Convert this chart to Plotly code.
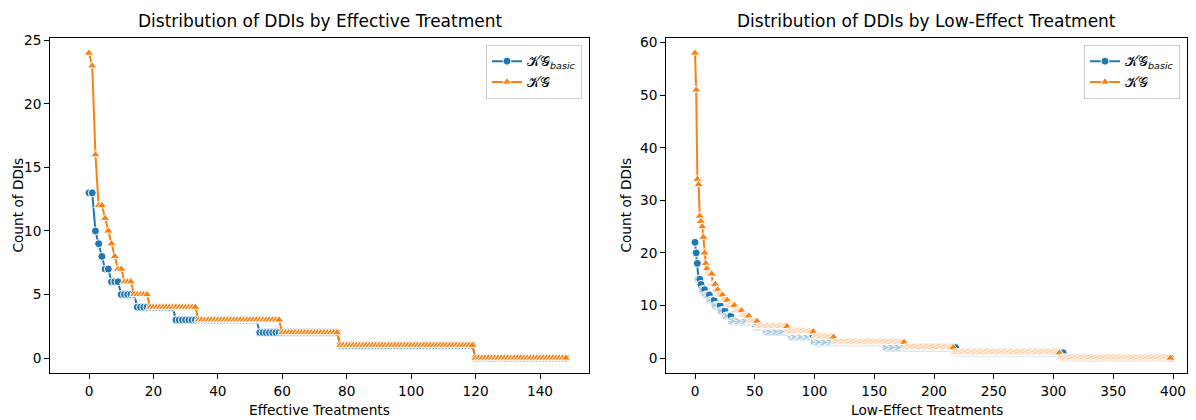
import numpy as np
import plotly.graph_objects as go

# ---- data (sorted DDI counts per treatment, as run-lengths) ----
eff_kg_levels = [24, 23, 16, 12, 11, 10, 9, 8, 7, 6, 5, 4, 3, 2, 1, 0]
eff_kg_counts = [1, 1, 1, 2, 1, 1, 1, 1, 2, 3, 5, 15, 26, 18, 42, 29]
eff_basic_levels = [13, 10, 9, 8, 7, 6, 5, 4, 3, 2, 1, 0]
eff_basic_counts = [2, 1, 1, 1, 2, 3, 5, 12, 26, 25, 42, 29]

low_kg_levels = [58, 51, 34, 33, 27, 26, 25, 23, 20, 18, 17, 16, 14, 13, 12, 11, 10, 9, 8, 7, 6, 5, 4, 3, 2, 1, 0]
low_kg_counts = [1, 1, 1, 1, 1, 1, 1, 1, 1, 1, 1, 4, 3, 2, 4, 4, 6, 6, 6, 7, 25, 22, 17, 59, 41, 89, 93]
low_basic_levels = [22, 20, 18, 15, 14, 13, 12, 11, 10, 9, 8, 7, 6, 5, 4, 3, 2, 1, 0]
low_basic_counts = [1, 1, 1, 2, 1, 3, 4, 4, 5, 4, 5, 20, 9, 21, 19, 60, 59, 90, 90]

titles = ["Distribution of DDIs by Effective Treatment", "Distribution of DDIs by Low-Effect Treatment"]
xtitles = ["Effective Treatments", "Low-Effect Treatments"]
ytitle = "Count of DDIs"
name_basic = "𝒦𝒢<sub><i>basic</i></sub>"
name_kg = "𝒦𝒢"

BLUE = "#1f77b4"
ORANGE = "#ff7f0e"
FONT = "DejaVu Sans"

W, H = 1196, 420

def expand(levels, counts):
    return np.repeat(levels, counts)

eff_kg = expand(eff_kg_levels, eff_kg_counts)
eff_basic = expand(eff_basic_levels, eff_basic_counts)
low_kg = expand(low_kg_levels, low_kg_counts)
low_basic = expand(low_basic_levels, low_basic_counts)

fig = go.Figure()

def add_pair(basic, kg, xa, ya, legend):
    fig.add_trace(go.Scatter(
        x=np.arange(len(basic)), y=basic, mode="lines+markers", name=name_basic,
        xaxis=xa, yaxis=ya, legend=legend,
        line=dict(color=BLUE, width=2),
        marker=dict(symbol="circle", size=8, color=BLUE, line=dict(color="white", width=1)),
    ))
    fig.add_trace(go.Scatter(
        x=np.arange(len(kg)), y=kg, mode="lines+markers", name=name_kg,
        xaxis=xa, yaxis=ya, legend=legend,
        line=dict(color=ORANGE, width=2),
        marker=dict(symbol="triangle-up", size=8.5, color=ORANGE, line=dict(color="white", width=1)),
    ))

add_pair(eff_basic, eff_kg, "x", "y", "legend")
add_pair(low_basic, low_kg, "x2", "y2", "legend2")

# plot areas in pixels
L1, R1 = 50.0, 589.0
L2, R2 = 666.0, 1187.0
T, B = 32.3, 372.6
# tick reference positions (px) used to derive ranges
X1_0, X1_140 = 89.0, 540.0
X2_0, X2_400 = 695.0, 1173.0

a1 = (X1_140 - X1_0) / 140
a2 = (X2_400 - X2_0) / 400
xr1 = [(L1 - X1_0) / a1, (R1 - X1_0) / a1]
xr2 = [(L2 - X2_0) / a2, (R2 - X2_0) / a2]

def fx(px):
    return px / W

def fy(py):
    return 1 - py / H

TS = 13.7
axis_common = dict(
    showgrid=False, zeroline=False, showline=True, linecolor="black", linewidth=1,
    mirror=True, ticks="outside", ticklen=4.8, tickwidth=1, tickcolor="black",
    tickfont=dict(family=FONT, size=TS, color="black"),
)

legend_common = dict(xanchor="right", yanchor="top",
                     bgcolor="rgba(255,255,255,0.8)", bordercolor="#cccccc", borderwidth=1,
                     font=dict(family=FONT, size=TS, color="black"), tracegroupgap=0, itemwidth=30)

fig.update_layout(
    width=W, height=H, margin=dict(l=0, r=0, t=0, b=0),
    paper_bgcolor="white", plot_bgcolor="white",
    font=dict(family=FONT, color="black"),
    xaxis=dict(domain=[fx(L1), fx(R1)], range=xr1, tickvals=[0, 20, 40, 60, 80, 100, 120, 140], anchor="y", **axis_common),
    yaxis=dict(domain=[fy(B), fy(T)], range=[-1.2, 25.2], tickvals=[0, 5, 10, 15, 20, 25], anchor="x", **axis_common),
    xaxis2=dict(domain=[fx(L2), fx(R2)], range=xr2, tickvals=[0, 50, 100, 150, 200, 250, 300, 350, 400], anchor="y2", **axis_common),
    yaxis2=dict(domain=[fy(B), fy(T)], range=[-2.9, 60.9], tickvals=[0, 10, 20, 30, 40, 50, 60], anchor="x2", **axis_common),
    legend=dict(x=fx(R1 - 7), y=fy(T + 7), **legend_common),
    legend2=dict(x=fx(R2 - 7), y=fy(T + 7), **legend_common),
    showlegend=True,
)

ann = []
for i, (l, r) in enumerate([(L1, R1), (L2, R2)]):
    ann.append(dict(text=titles[i], x=fx((l + r) / 2), y=fy(15), xref="paper", yref="paper",
                    xanchor="center", yanchor="middle", showarrow=False,
                    font=dict(family=FONT, size=17, color="black")))
    ann.append(dict(text=xtitles[i], x=fx((l + r) / 2), y=fy(410), xref="paper", yref="paper",
                    xanchor="center", yanchor="middle", showarrow=False,
                    font=dict(family=FONT, size=TS, color="black")))
for xpx in [18, 626]:
    ann.append(dict(text=ytitle, x=fx(xpx), y=fy((T + B) / 2), xref="paper", yref="paper",
                    xanchor="center", yanchor="middle", showarrow=False, textangle=-90,
                    font=dict(family=FONT, size=TS, color="black")))
fig.update_layout(annotations=ann)

fig.write_html("out.html")
